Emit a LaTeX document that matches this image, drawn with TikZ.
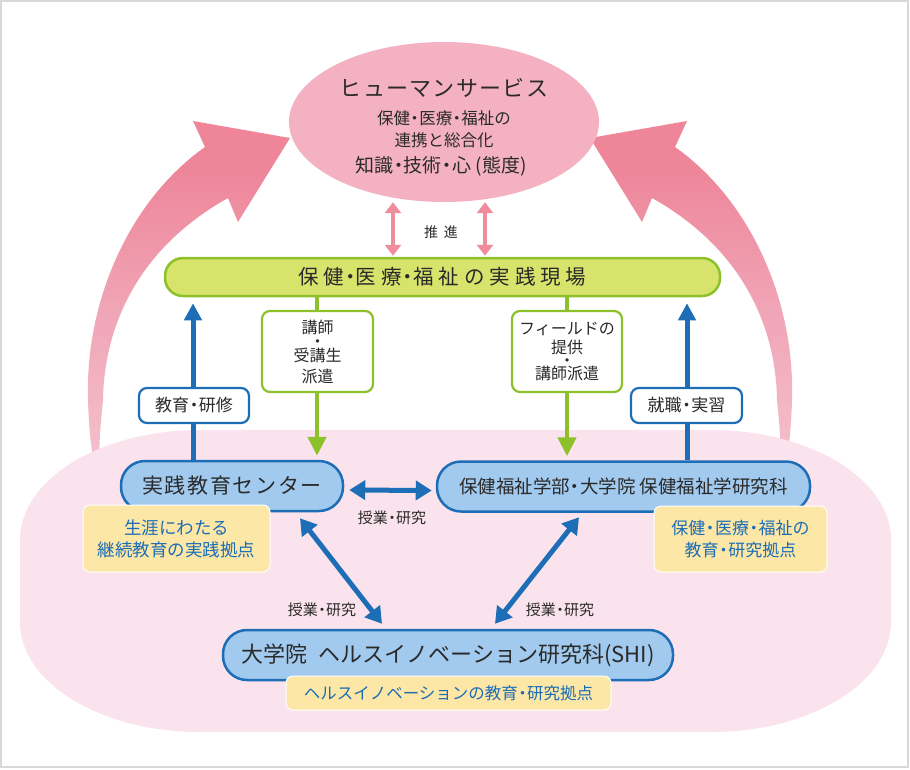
\documentclass[tikz,border=0pt]{standalone}
\usepackage{fontspec}
\setmainfont{Noto Sans CJK JP}
\usetikzlibrary{arrows.meta,calc,shapes.geometric}
\definecolor{txt}{HTML}{2A2A2A}
\definecolor{bluefill}{HTML}{A2CAEE}
\definecolor{blueline}{HTML}{1E6EB7}
\definecolor{bluetext}{HTML}{1C6DB6}
\definecolor{greenfill}{HTML}{D8E36B}
\definecolor{greenline}{HTML}{8CC12C}
\definecolor{yellowfill}{HTML}{FCE7A7}
\definecolor{regionpink}{HTML}{FBE3ED}
\definecolor{ellpink}{HTML}{F4B1C1}
\definecolor{arrowpink}{HTML}{EE8599}
\definecolor{arrowmid}{HTML}{F0A5B6}
\definecolor{arrowlow}{HTML}{F5C8D4}
\definecolor{arrowfadec}{HTML}{FDF1F5}
\definecolor{pushpink}{HTML}{EF8D9D}
\definecolor{framegray}{HTML}{D8D8D8}
\pgfdeclareverticalshading{arrowfade}{100bp}{color(0bp)=(arrowfadec); color(17bp)=(arrowlow); color(47bp)=(arrowmid); color(68bp)=(arrowpink); color(100bp)=(arrowpink)}
\newcommand{\nd}{\hspace{-0.22em}・\hspace{-0.22em}}
\newcommand{\fs}[1]{\fontsize{#1}{#1}\selectfont}
\newcommand{\fsb}[2]{\fontsize{#1}{#2}\selectfont}
\tikzset{
  bluenode/.style={draw=blueline, line width=2.5pt, fill=bluefill, rounded corners=24pt, inner sep=0pt, text=txt},
  ybox/.style={draw=white, line width=1pt, fill=yellowfill, rounded corners=7pt, text=bluetext, inner sep=0pt, align=center},
  wbox/.style={draw=blueline, line width=2.2pt, fill=white, rounded corners=8pt, text=txt, inner sep=0pt},
  gbox/.style={draw=greenline, line width=2.2pt, fill=white, rounded corners=8pt, text=txt, inner sep=0pt, align=center},
  barr/.style={draw=blueline, line width=5pt, -{Triangle[width=17pt,length=17pt]}},
  bdarr/.style={draw=blueline, line width=5pt, {Triangle[width=19pt,length=16pt]}-{Triangle[width=19pt,length=16pt]}},
  garr/.style={draw=greenline, line width=4.5pt, -{Triangle[width=18pt,length=19pt]}},
  pdarr/.style={draw=pushpink, line width=4.5pt, {Triangle[width=16pt,length=11pt]}-{Triangle[width=16pt,length=11pt]}},
  lbl/.style={text=txt, inner sep=0pt},
}
\begin{document}
\begin{tikzpicture}[x=1pt, y=-1pt]
\useasboundingbox (0,0) rectangle (910,769);
\fill[white] (0,0) rectangle (910,769);
\draw[framegray, line width=1.5pt] (1,1) rectangle (908,767);

% big pink curved arrows
\shade[shading=arrowfade] (290,138) -- (193,121) -- (205,147) .. controls (130,200) and (85,300) .. (88,400) .. controls (89,430) and (91,445) .. (93,457) -- (99,457) .. controls (100,430) and (101,420) .. (103,400) .. controls (104,330) and (135,250) .. (228,198) -- (238,222) -- cycle;
\shade[shading=arrowfade] (590,138) -- (687,121) -- (675,147) .. controls (750,200) and (795,300) .. (792,400) .. controls (791,430) and (789,445) .. (787,457) -- (781,457) .. controls (780,430) and (779,420) .. (777,400) .. controls (776,330) and (745,250) .. (652,198) -- (642,222) -- cycle;

% pink region
\fill[regionpink] (200,430) -- (711,430) .. controls (810.4,430) and (891,479.2) .. (891,540) -- (891,622) .. controls (891,682.8) and (810.4,732) .. (711,732) -- (200,732) .. controls (100.6,732) and (20,682.8) .. (20,622) -- (20,540) .. controls (20,479.2) and (100.6,430) .. (200,430) -- cycle;

% top ellipse
\node[ellipse, fill=ellpink, minimum width=310pt, minimum height=160pt, inner sep=0pt] (hs) at (444,122) {};
\node[lbl] (ht1) at (444,88) {\fs{22}\addfontfeature{LetterSpace=6}ヒューマンサービス};
\node[lbl] (ht2) at (444,118) {\fs{16.5}保健\nd 医療\nd 福祉の};
\node[lbl] (ht3) at (444,140) {\fs{16.5}連携と総合化};
\node[lbl] (ht4) at (441,166) {\fs{19}知識\nd 技術\nd 心 (態度)};

% green bar
\node[draw=greenline, line width=2.5pt, fill=greenfill, rounded corners=18pt, minimum width=555pt, minimum height=38pt, inner sep=0pt, text=txt] (bar) at (442.5,277) {\fs{20.5}\addfontfeature{LetterSpace=24}保健\nd 医療\nd 福祉の実践現場};

% blue nodes
\node[bluenode, minimum width=222pt, minimum height=50pt] (cen) at (232,486) {\fs{21}\addfontfeature{LetterSpace=8}実践教育センター};
\node[bluenode, minimum width=373pt, minimum height=50pt] (fac) at (623.5,486.5) {\fs{18.5}保健福祉学部\nd 大学院 保健福祉学研究科};
\node[bluenode, minimum width=450pt, minimum height=50pt] (shi) at (448,655) {\fs{22}大学院\hspace{0.5em}ヘルスイノベーション研究科(SHI)};

% push arrows
\coordinate (p1) at (393,0);
\coordinate (p2) at (485,0);
\draw[pdarr, shorten >=1pt] (hs.south -| p1) -- (bar.north -| p1);
\draw[pdarr, shorten >=1pt] (hs.south -| p2) -- (bar.north -| p2);
\node[lbl] (push) at (441,232) {\fs{14}\addfontfeature{LetterSpace=40}推進};

% vertical blue arrows
\coordinate (xl) at (193,0);
\coordinate (xr) at (687,0);
\draw[barr, shorten >=6pt] (cen.north -| xl) -- (bar.south -| xl);
\draw[barr, shorten >=6pt] (fac.north -| xr) -- (bar.south -| xr);

% green arrows
\coordinate (gl) at (317,0);
\coordinate (gr) at (567,0);
\draw[garr, shorten >=4pt] (bar.south -| gl) -- (cen.north -| gl);
\draw[garr, shorten >=4pt] (bar.south -| gr) -- (fac.north -| gr);

% blue double arrows
\draw[bdarr] ($(cen.east)+(5,4)$) -- ($(fac.west)+(-4,4)$);
\draw[bdarr] ($(cen.south)+(68,6)$) -- ($(shi.north)+(-66,-5)$);
\draw[bdarr] ($(shi.north)+(47,-5)$) -- ($(fac.south)+(-44.5,4.5)$);
\node[lbl] (l1) at (392,518) {\fs{15}授業\nd 研究};
\node[lbl] (l2) at (322,610) {\fs{15}授業\nd 研究};
\node[lbl] (l3) at (560,610) {\fs{15}授業\nd 研究};

% white label boxes
\node[wbox, minimum width=110pt, minimum height=35pt] (kb) at (194,405.5) {\fs{17}教育\nd 研修};
\node[wbox, minimum width=111pt, minimum height=35pt] (jb) at (686.5,405.5) {\fs{17}就職\nd 実習};

% green label boxes
\node[gbox, minimum width=111pt, minimum height=81pt, font=\fsb{16}{21}] (gbl) at (317.5,351.5) {講師\\[-7pt]・\\[-7pt]受講生\\派遣};
\node[gbox, minimum width=110pt, minimum height=81pt, font=\fsb{16}{19}] (gbr) at (567,351.5) {フィールドの\\提供\\[-6pt]・\\[-6pt]講師派遣};

% yellow boxes
\node[ybox, minimum width=187pt, minimum height=67pt, font=\fsb{17.5}{22}] (yl) at (176.5,538.5) {生涯にわたる\\継続教育の実践拠点};
\node[ybox, minimum width=173pt, minimum height=66pt, font=\fsb{17}{22}] (yr) at (740.5,539) {保健\nd 医療\nd 福祉の\\教育\nd 研究拠点};
\node[ybox, minimum width=325pt, minimum height=34pt] (yb) at (448.5,693) {\fs{16.5}ヘルスイノベーションの教育\nd 研究拠点};
\end{tikzpicture}
\end{document}
